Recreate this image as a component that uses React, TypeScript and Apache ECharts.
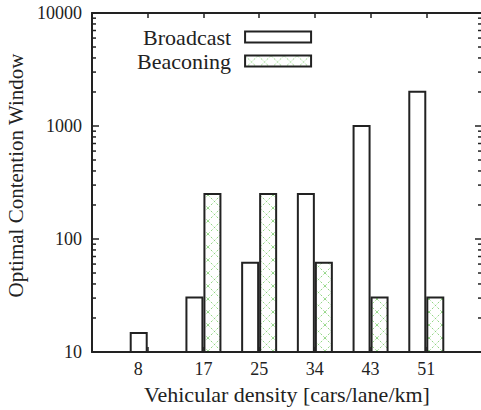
import React, { useEffect, useRef } from "react";
import * as echarts from "echarts";

const categories = ["", "8", "17", "25", "34", "43", "51", ""];
const broadcast = [null, 15, 31, 63, 255, 1023, 2047, null];
const beaconing = [null, null, 255, 255, 63, 31, 31, null];
const minorTicks = [
  20, 30, 40, 50, 60, 70, 80, 90,
  200, 300, 400, 500, 600, 700, 800, 900,
  2000, 3000, 4000, 5000, 6000, 7000, 8000, 9000,
];

const FONT = "'Liberation Serif', 'Times New Roman', serif";
const INK = "#222";

const tileSvg =
  "<svg xmlns='http://www.w3.org/2000/svg' width='13' height='13'>" +
  "<rect width='13' height='13' fill='white'/>" +
  "<path d='M0 0L13 13M13 0L0 13' stroke='#86d177' stroke-width='0.9' stroke-dasharray='2.2 1.8' fill='none'/>" +
  "</svg>";
const tileUrl = "data:image/svg+xml;charset=utf-8," + encodeURIComponent(tileSvg);

export default function App() {
  const ref = useRef<HTMLDivElement>(null);
  useEffect(() => {
    if (!ref.current) return;
    const chart = echarts.init(ref.current, undefined, { renderer: "svg" });
    const pattern: any = { image: tileUrl, repeat: "repeat", imageWidth: 13, imageHeight: 13 };
    chart.setOption({
      animation: false,
      backgroundColor: "#fff",
      textStyle: { fontFamily: FONT },
      grid: { left: 92, top: 13, width: 390, height: 339, containLabel: false, outerBoundsMode: "none" },
      legend: {
        data: ["Broadcast", "Beaconing"],
        orient: "vertical",
        align: "right",
        left: 137,
        top: 26,
        padding: 0,
        itemWidth: 66,
        itemHeight: 11,
        itemGap: 2,
        icon: "rect",
        selectedMode: false,
        textStyle: { fontFamily: FONT, fontSize: 22, color: INK, lineHeight: 22, padding: [0, 9, 0, 0] },
      },
      xAxis: [
        {
          type: "category",
          data: categories,
          boundaryGap: false,
          position: "bottom",
          axisLine: { lineStyle: { color: INK, width: 2 } },
          axisTick: { inside: true, length: 5, lineStyle: { color: INK, width: 1.5 } },
          axisLabel: {
            interval: 0,
            margin: 8,
            fontFamily: FONT,
            fontSize: 18,
            color: INK,
            formatter: (v: string) => (v === "8" ? "{s|8}" : v),
            rich: { s: { fontFamily: FONT, fontSize: 18, color: INK, width: 28, align: "left" } },
          },
          name: "Vehicular density [cars/lane/km]",
          nameLocation: "middle",
          nameGap: 31,
          nameTextStyle: { fontFamily: FONT, fontSize: 22, color: INK },
          splitLine: { show: false },
        },
        {
          type: "category",
          data: categories,
          boundaryGap: false,
          position: "top",
          axisLine: { lineStyle: { color: INK, width: 2 } },
          axisTick: { inside: true, length: 5, lineStyle: { color: INK, width: 1.5 } },
          axisLabel: { show: false },
          splitLine: { show: false },
        },
      ],
      yAxis: [
        {
          type: "log",
          logBase: 10,
          min: 10,
          max: 10000,
          position: "left",
          axisLine: { show: true, lineStyle: { color: INK, width: 2 } },
          axisTick: { show: true, inside: true, length: 7, lineStyle: { color: INK, width: 1.5 } },
          axisLabel: {
            margin: 10,
            fontFamily: FONT,
            fontSize: 18,
            color: INK,
            formatter: (v: number) => String(Math.round(v)),
          },
          splitLine: { show: false },
          name: "Optimal Contention Window",
          nameLocation: "middle",
          nameGap: 66,
          nameTextStyle: { fontFamily: FONT, fontSize: 21, color: INK, padding: [0, 0, 0, 14] },
        },
        {
          type: "log",
          logBase: 10,
          min: 10,
          max: 10000,
          position: "right",
          axisLine: { show: true, lineStyle: { color: INK, width: 2 } },
          axisTick: { show: true, inside: true, length: 7, lineStyle: { color: INK, width: 1.5 } },
          axisLabel: { show: false },
          splitLine: { show: false },
        },
      ],
      series: [
        {
          name: "Broadcast",
          type: "bar",
          data: broadcast,
          barWidth: 18,
          barGap: "0%",
          clip: true,
          itemStyle: { color: "#fff", borderColor: INK, borderWidth: 2 },
        },
        {
          name: "Beaconing",
          type: "bar",
          data: beaconing,
          barWidth: 18,
          barGap: "0%",
          clip: true,
          itemStyle: { color: pattern, borderColor: INK, borderWidth: 2 },
        },
        {
          name: "minor",
          type: "custom",
          silent: true,
          data: minorTicks.map((v) => [1, v]),
          renderItem: (params: any, api: any) => {
            const cs = params.coordSys;
            const y = api.coord([1, api.value(1)])[1];
            return {
              type: "group",
              children: [
                { type: "line", shape: { x1: cs.x, y1: y, x2: cs.x + 4, y2: y }, style: { stroke: INK, lineWidth: 1.5 } },
                {
                  type: "line",
                  shape: { x1: cs.x + cs.width - 4, y1: y, x2: cs.x + cs.width, y2: y },
                  style: { stroke: INK, lineWidth: 1.5 },
                },
              ],
            };
          },
        },
      ],
    });
    return () => chart.dispose();
  }, []);
  return <div ref={ref} style={{ position: "fixed", left: 0, top: 0, width: 481, height: 410 }} />;
}
